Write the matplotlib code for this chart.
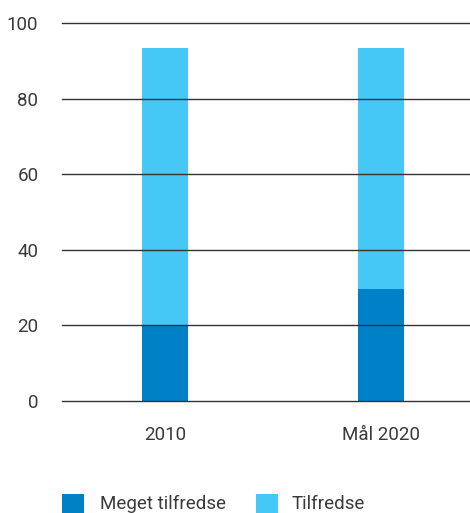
import matplotlib
matplotlib.use("Agg")
import matplotlib.pyplot as plt
from matplotlib.patches import Rectangle

categories = ["2010", "Mål 2020"]
meget_tilfredse = [20, 29.5]
tilfredse = [73.5, 64]
series_names = ["Meget tilfredse", "Tilfredse"]
yticks = [0, 20, 40, 60, 80, 100]

dark = "#0080C6"
light = "#45C8F5"
txt = "#3a3a3a"

plt.rcParams["font.family"] = ["Roboto", "DejaVu Sans"]
plt.rcParams["font.weight"] = "normal"

W, H = 470, 513
fig = plt.figure(figsize=(W/100, H/100), dpi=100)
ax = fig.add_axes([62/W, 112/H, 1 - 62/W, (401-23)/H])

x = list(range(len(categories)))
w = 0.213
ax.bar(x, meget_tilfredse, width=w, color=dark, zorder=1)
ax.bar(x, tilfredse, width=w, bottom=meget_tilfredse, color=light, zorder=1)

ax.set_ylim(0, 100)
ax.set_xlim(-0.477, 1.412)
ax.set_yticks(yticks)
ax.set_xticks(x)
ax.set_xticklabels(categories)
for yv in yticks:
    ax.axhline(yv, color="#333333", linewidth=1.0, zorder=2, clip_on=False)
for s in ax.spines.values():
    s.set_visible(False)
ax.tick_params(axis="y", length=0, pad=17, labelsize=13.5, labelcolor=txt)
ax.tick_params(axis="x", length=0, pad=18, labelsize=13.5, labelcolor=txt)

# legend
for color, name, sx, tx in zip([dark, light], series_names, [62, 256], [100, 292]):
    fig.patches.append(Rectangle((sx/W, 1 - 516/H), 22/W, 22/H, transform=fig.transFigure,
                                 facecolor=color, edgecolor="none"))
    fig.text(tx/W, 1 - 504/H, name, fontsize=13.5, color=txt, va="center", ha="left")

fig.savefig("out.png", dpi=100)
